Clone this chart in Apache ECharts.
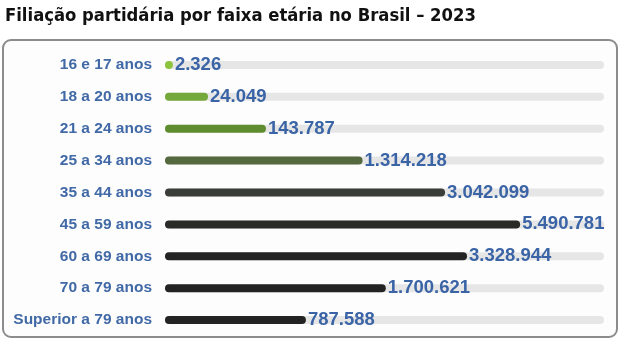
<!DOCTYPE html>
<html>
<head>
<meta charset="utf-8">
<script src="https://cdn.jsdelivr.net/npm/echarts@6/dist/echarts.min.js"></script>
<style>
html,body{margin:0;padding:0;background:#fff;}
#c{width:621px;height:340px;}
</style>
</head>
<body>
<div id="c"></div>
<script>
// Faixas etárias (categorias)
var categories = ['16 e 17 anos','18 a 20 anos','21 a 24 anos','25 a 34 anos','35 a 44 anos','45 a 59 anos','60 a 69 anos','70 a 79 anos','Superior a 79 anos'];
// Número de filiados (valores impressos nos rótulos)
var values = [2326, 24049, 143787, 1314218, 3042099, 5490781, 3328944, 1700621, 787588];
// Comprimento das barras como desenhado no infográfico (% da trilha)
var barLengths = [1.8, 9.8, 23, 45, 63.8, 80.9, 68.8, 50.3, 32.1];
// Cores das barras
var palette = ['#8cc43c','#74a83a','#5e8c2e','#55693f','#3a3d38','#2a2b29','#232323','#232323','#232323'];

function fmt(v){ return String(v).replace(/\B(?=(\d{3})+(?!\d))/g, '.'); }

var chart = echarts.init(document.getElementById('c'), null, {renderer:'canvas'});
chart.setOption({
  animation:false,
  backgroundColor:'#ffffff',
  title:{
    text:'Filiação partidária por faixa etária no Brasil – 2023',
    left:0, top:2,
    textStyle:{fontFamily:'"DejaVu Sans Condensed",sans-serif', fontWeight:'bold', fontSize:18.3, color:'#111'}
  },
  graphic:[{
    type:'rect', z:-10, silent:true,
    shape:{x:3, y:40, width:614, height:297, r:8},
    style:{fill:'#fdfdfd', stroke:'#8c8c8c', lineWidth:2}
  }],
  grid:{left:165, right:17, top:49, height:287, containLabel:false},
  xAxis:{type:'value', min:0, max:100, show:false},
  yAxis:{
    type:'category', data:categories, inverse:true,
    axisLine:{show:false}, axisTick:{show:false},
    axisLabel:{margin:13, color:'#4069a6', fontWeight:'bold', fontSize:15.5, fontFamily:'"Liberation Sans",Arial,sans-serif'}
  },
  series:[{
    type:'bar',
    barWidth:8,
    showBackground:true,
    backgroundStyle:{color:'#e6e6e6', borderRadius:4},
    data:barLengths.map(function(v,i){
      return {value:v, itemStyle:{color:palette[i]}};
    }),
    itemStyle:{borderRadius:4},
    label:{
      show:true, position:'right', distance:2,
      formatter:function(p){ return fmt(values[p.dataIndex]); },
      color:'#3a64a6', fontWeight:'bold', fontSize:18.5, fontFamily:'"Liberation Sans",Arial,sans-serif'
    }
  }]
});
</script>
</body>
</html>
